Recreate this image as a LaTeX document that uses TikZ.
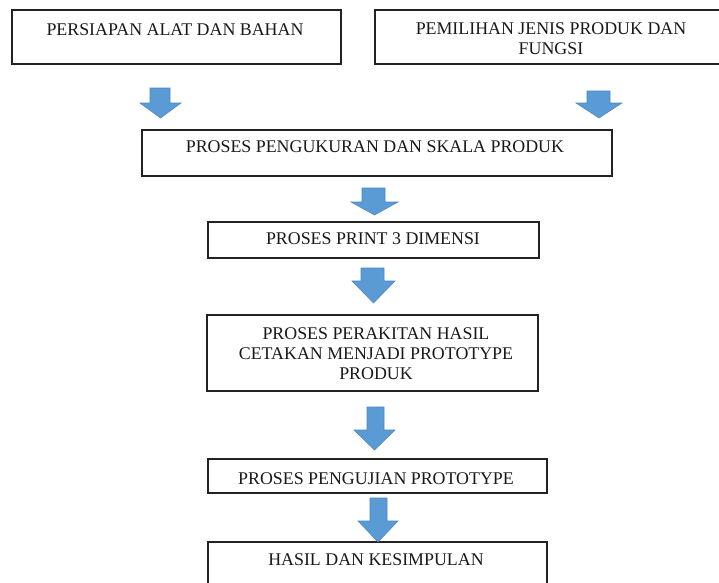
\documentclass[tikz,border=0pt]{standalone}
\usepackage{fontspec}
\setmainfont{Liberation Serif}
\usetikzlibrary{fit}
\definecolor{arrfill}{HTML}{5B9BD5}
\definecolor{arrline}{HTML}{4A86BF}
\definecolor{boxline}{HTML}{222222}
\tikzset{
  box/.style={draw=boxline, line width=0.9pt, inner sep=0pt, rectangle},
  txt/.style={inner sep=0pt, font=\fontsize{13.4}{15}\selectfont, text=black!90},
  blockarr/.style={fill=arrfill, draw=arrline, line width=0.4pt, line join=miter},
}
% \barrow{shaft left}{shaft right}{head left}{head right}{top}{neck}{tip}
\newcommand{\barrow}[7]{%
  \draw[blockarr] (#1,#5) -- (#2,#5) -- (#2,#6) -- (#4,#6) -- ({(#3+#4)/2},#7) -- (#3,#6) -- (#1,#6) -- cycle;}
\begin{document}
\begin{tikzpicture}[x=0.75pt,y=-0.75pt]
\useasboundingbox (0,0) rectangle (719,583);
% boxes
\node[box, fit={(12,10) (341,64)}] (b1) {};
\node[box, fit={(375,10) (725,64)}] (b2) {};
\node[box, fit={(142,130) (612,176)}] (b3) {};
\node[box, fit={(208,222) (539,258)}] (b4) {};
\node[box, fit={(207,315) (538,391)}] (b5) {};
\node[box, fit={(208,459) (547,493)}] (b6) {};
\node[box, fit={(208,542) (547,600)}] (b7) {};
% texts
\node[txt, anchor=base] (t1) at (175,35) {PERSIAPAN ALAT DAN BAHAN};
\node[txt, anchor=north, align=center] (t2) at (551,22) {PEMILIHAN JENIS PRODUK DAN\\FUNGSI};
\node[txt, anchor=base] (t3) at (375,152) {PROSES PENGUKURAN DAN SKALA PRODUK};
\node[txt, anchor=base] (t4) at (373,244) {PROSES PRINT 3 DIMENSI};
\node[txt, anchor=north, align=center] (t5) at (376,327) {PROSES PERAKITAN HASIL\\CETAKAN MENJADI PROTOTYPE\\PRODUK};
\node[txt, anchor=base] (t6) at (376,484) {PROSES PENGUJIAN PROTOTYPE};
\node[txt, anchor=base] (t7) at (376,565) {HASIL DAN KESIMPULAN};
% block arrows
\barrow{150}{170}{140}{181}{88}{103}{118}
\barrow{587}{610}{576}{622}{91}{103}{118}
\barrow{362}{385}{351}{398}{188}{202}{215}
\barrow{361}{384}{352}{395}{268}{281}{303}
\barrow{367}{384}{354}{395}{407}{430}{450}
\barrow{370}{387}{358}{398}{498}{521}{542}
\end{tikzpicture}
\end{document}
